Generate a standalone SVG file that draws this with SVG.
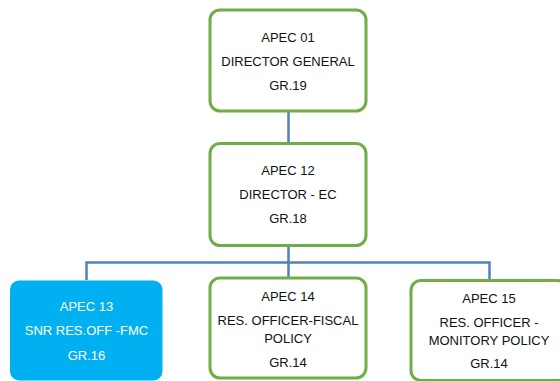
<svg xmlns="http://www.w3.org/2000/svg" width="560" height="381" viewBox="0 0 560 381">
<style>
.box{fill:#fff;stroke:#70AD47;stroke-width:3}
.blue{fill:#00B0F0;stroke:none}
.t{font-family:"Liberation Sans",Arial,sans-serif;font-size:13px;fill:#111;text-anchor:middle}
.w{fill:#fff}
.c{fill:none;stroke:#4F81BD;stroke-width:2.5}
</style>
<rect width="560" height="381" fill="#fff"/>
<g id="connectors">
<path class="c" d="M288.5 112 V143"/>
<path class="c" d="M288.5 246 V278"/>
<path class="c" d="M86.5 280 V262.5 H489.5 V280"/>
</g>
<g id="n1">
<rect class="box" x="210" y="10" width="156" height="101" rx="10"/>
<text class="t" x="288" y="41.5">APEC 01</text>
<text class="t" x="288" y="65.5">DIRECTOR GENERAL</text>
<text class="t" x="288" y="89.5">GR.19</text>
</g>
<g id="n2">
<rect class="box" x="210" y="143.5" width="156" height="102" rx="10"/>
<text class="t" x="288" y="175">APEC 12</text>
<text class="t" x="288" y="199">DIRECTOR - EC</text>
<text class="t" x="288" y="222.5">GR.18</text>
</g>
<g id="n3">
<rect class="blue" x="10" y="280.5" width="152.5" height="100" rx="9"/>
<text class="t w" x="86.5" y="311">APEC 13</text>
<text class="t w" x="86.5" y="335">SNR RES.OFF -FMC</text>
<text class="t w" x="86.5" y="359.5">GR.16</text>
</g>
<g id="n4">
<rect class="box" x="210" y="278" width="156" height="100" rx="10"/>
<text class="t" x="288" y="301">APEC 14</text>
<text class="t" x="288" y="325">RES. OFFICER-FISCAL</text>
<text class="t" x="288" y="342.5">POLICY</text>
<text class="t" x="288" y="366.5">GR.14</text>
</g>
<g id="n5">
<rect class="box" x="411" y="280.5" width="156" height="100" rx="10"/>
<text class="t" x="489" y="303">APEC 15</text>
<text class="t" x="489" y="327">RES. OFFICER -</text>
<text class="t" x="489" y="344.5">MONITORY POLICY</text>
<text class="t" x="489" y="368">GR.14</text>
</g>
</svg>
